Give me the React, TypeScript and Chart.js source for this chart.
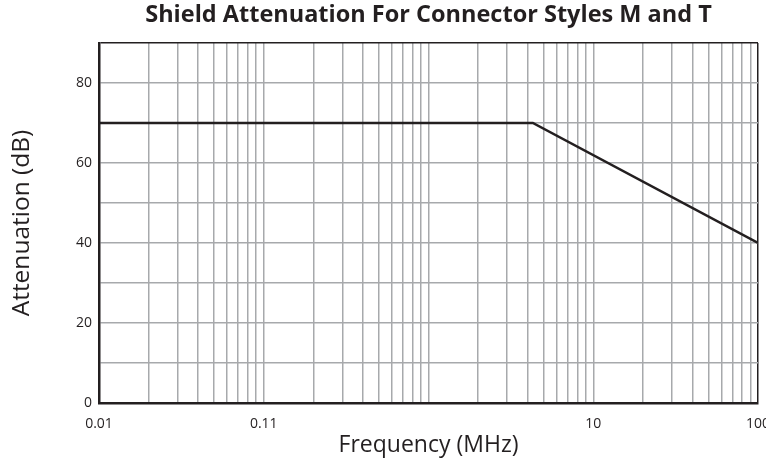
import React, { useEffect, useRef } from "react";
import { Chart, registerables } from "chart.js";

Chart.register(...registerables);

const frequencies = [0.01, 4.3, 100];
const attenuation = [70, 70, 40];
const xTickValues = [0.01, 0.1, 10, 100];
const xTickLabels = ["0.01", "0.11", "10", "100"];
const yTickLabels = [0, 20, 40, 60, 80];

const TITLE = "Shield Attenuation For Connector Styles M and T";
const X_TITLE = "Frequency (MHz)";
const Y_TITLE = "Attenuation (dB)";

const DARK = "#231f20";
const GRID = "#a7a9ac";
const FONT = "'Open Sans', sans-serif";

export default function App() {
  const ref = useRef<HTMLCanvasElement>(null);
  useEffect(() => {
    if (!ref.current) return;
    const chart = new Chart(ref.current, {
      type: "line",
      data: {
        datasets: [
          {
            data: frequencies.map((f, i) => ({ x: f, y: attenuation[i] })),
            borderColor: DARK,
            borderWidth: 2.5,
            pointRadius: 0,
            fill: false,
            tension: 0,
            xAxisID: "x",
            yAxisID: "y",
          },
        ],
      },
      options: {
        animation: false,
        responsive: true,
        maintainAspectRatio: false,
        layout: { padding: { left: 0, right: 8, top: 0, bottom: 0 } },
        plugins: {
          legend: { display: false },
          tooltip: { enabled: false },
          title: { display: false },
        },
        scales: {
          x: {
            type: "logarithmic",
            position: "bottom",
            min: 0.01,
            max: 100,
            afterBuildTicks: (scale: any) => {
              const ticks: any[] = [];
              for (let e = -2; e < 2; e++) {
                for (let m = 1; m < 10; m++) {
                  ticks.push({ value: m * Math.pow(10, e) });
                }
              }
              ticks.push({ value: 100 });
              scale.ticks = ticks;
            },
            afterFit: (scale: any) => {
              scale.height = 56;
              scale.paddingLeft = 0;
              scale.paddingRight = 0;
            },
            ticks: {
              autoSkip: false,
              maxRotation: 0,
              minRotation: 0,
              padding: 13,
              color: DARK,
              font: { family: FONT, size: 14 },
              callback: (value: any) => {
                const v = Number(value);
                const idx = xTickValues.findIndex((t) => Math.abs(t - v) / t < 1e-6);
                return idx >= 0 ? xTickLabels[idx] : "";
              },
            },
            grid: {
              drawTicks: false,
              lineWidth: 1.5,
              color: (ctx: any) => (ctx.tick && Math.abs(ctx.tick.value - 100) < 1e-6 ? DARK : GRID),
            },
            border: { display: true, color: DARK, width: 2.5 },
            title: {
              display: true,
              text: X_TITLE,
              color: DARK,
              font: { family: FONT, size: 23, lineHeight: 1.2 },
              padding: { top: 0, bottom: 0 },
            },
          },
          top: {
            type: "linear",
            position: "top",
            min: 0,
            max: 1,
            afterFit: (scale: any) => {
              scale.height = 43;
              scale.paddingLeft = 0;
              scale.paddingRight = 0;
            },
            ticks: { display: false },
            grid: { display: false, drawTicks: false },
            border: { display: false },
            title: {
              display: true,
              text: TITLE,
              color: DARK,
              font: { family: FONT, size: 23.5, weight: "bold", lineHeight: 1.2 },
              padding: { top: 1, bottom: 0 },
            },
          },
          y: {
            type: "linear",
            min: 0,
            max: 90,
            afterBuildTicks: (scale: any) => {
              const ticks: any[] = [];
              for (let v = 0; v <= 90; v += 10) ticks.push({ value: v });
              scale.ticks = ticks;
            },
            afterFit: (scale: any) => {
              scale.width = 99;
            },
            ticks: {
              autoSkip: false,
              padding: 7,
              color: DARK,
              font: { family: FONT, size: 14 },
              callback: (value: any) => (yTickLabels.includes(Number(value)) ? String(value) : ""),
            },
            grid: {
              drawTicks: false,
              lineWidth: 1.5,
              color: (ctx: any) => (ctx.tick && ctx.tick.value === 90 ? DARK : GRID),
            },
            border: { display: true, color: DARK, width: 2.5 },
            title: {
              display: true,
              text: Y_TITLE,
              color: DARK,
              font: { family: FONT, size: 24.5, lineHeight: 1.2 },
              padding: { top: 7, bottom: 0 },
            },
          },
        },
      },
    });
    return () => chart.destroy();
  }, []);
  return (
    <div style={{ position: "fixed", left: 0, top: 0, width: 766, height: 459, background: "#fff" }}>
      <canvas ref={ref} />
    </div>
  );
}
